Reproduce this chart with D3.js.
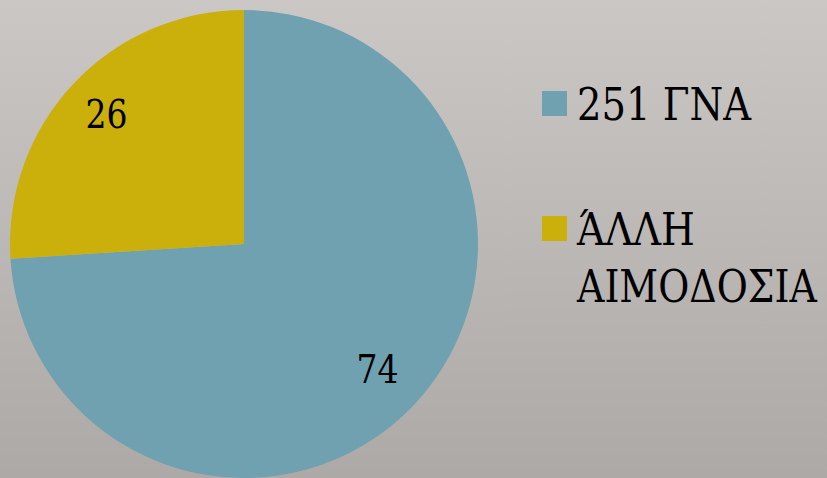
<!DOCTYPE html>
<html>
<head>
<meta charset="utf-8">
<script src="https://cdn.jsdelivr.net/npm/d3@7"></script>
<style>
  html, body { margin: 0; padding: 0; overflow: hidden; }
  svg { display: block; }
  text { font-family: "DejaVu Serif", "Liberation Serif", serif; }
</style>
</head>
<body>
<div id="chart"></div>
<script>
// data
const categories = ["251 ΓΝΑ", "ΆΛΛΗ ΑΙΜΟΔΟΣΙΑ"];
const values = [74, 26];
const colors = ["#6fa1b1", "#cbaf0b"];
// legend lines for each category (second one wraps)
const legendLines = [["251 ΓΝΑ"], ["ΆΛΛΗ", "ΑΙΜΟΔΟΣΙΑ"]];

const w = 827, h = 478;
const cx = 244, cy = 244, radius = 234;

const svg = d3.select("#chart")
  .append("svg")
  .attr("width", w)
  .attr("height", h);

/** background gradient */
const defs = svg.append("defs");
defs.append("linearGradient")
  .attr("id", "bg")
  .attr("x1", "0%").attr("y1", "0%")
  .attr("x2", "0%").attr("y2", "100%")
  .each(function() {
    d3.select(this).append("stop").attr("offset", "0%").attr("stop-color", "#cbc7c4");
    d3.select(this).append("stop").attr("offset", "100%").attr("stop-color", "#aca9a6");
  });

svg.append("rect")
  .attr("width", w)
  .attr("height", h)
  .attr("fill", "url(#bg)");

/** pie */
const pie = d3.pie().sort(null).value(d => d)(values);
const arc = d3.arc().innerRadius(0).outerRadius(radius);
const labelArc = d3.arc().innerRadius(186).outerRadius(186);

const g = svg.append("g")
  .attr("transform", "translate(" + cx + "," + cy + ")");

g.selectAll("path")
  .data(pie)
  .enter()
  .append("path")
  .attr("d", arc)
  .attr("fill", (d, i) => colors[i]);

g.selectAll("text.val")
  .data(pie)
  .enter()
  .append("text")
  .attr("class", "val")
  .attr("transform", d => {
    const [x, y] = labelArc.centroid(d);
    return "translate(" + (x - 2) + "," + (y - 3) + ")";
  })
  .attr("dy", "0.36em")
  .attr("text-anchor", "middle")
  .attr("textLength", 42)
  .attr("lengthAdjust", "spacingAndGlyphs")
  .style("font-size", "40px")
  .attr("fill", "#000")
  .text(d => d.data);

/** legend */
const legendY = [91, 216];
// widths the legend lines take in the reference (its font is narrower)
const lineWidths = [[174], [118, 240]];
const legend = svg.append("g").attr("id", "legend");

categories.forEach((c, i) => {
  legend.append("rect")
    .attr("x", 542)
    .attr("y", legendY[i])
    .attr("width", 25)
    .attr("height", 25)
    .attr("fill", colors[i]);

  legendLines[i].forEach((line, j) => {
    const t = legend.append("text")
      .style("font-size", "45px")
      .attr("fill", "#000")
      .text(line);
    // squeeze each line horizontally to the reference width
    const sx = lineWidths[i][j] / t.node().getComputedTextLength();
    t.attr("transform", "translate(577," + (legendY[i] + 29 + j * 57) + ") scale(" + sx + ",1)");
  });
});
</script>
</body>
</html>
